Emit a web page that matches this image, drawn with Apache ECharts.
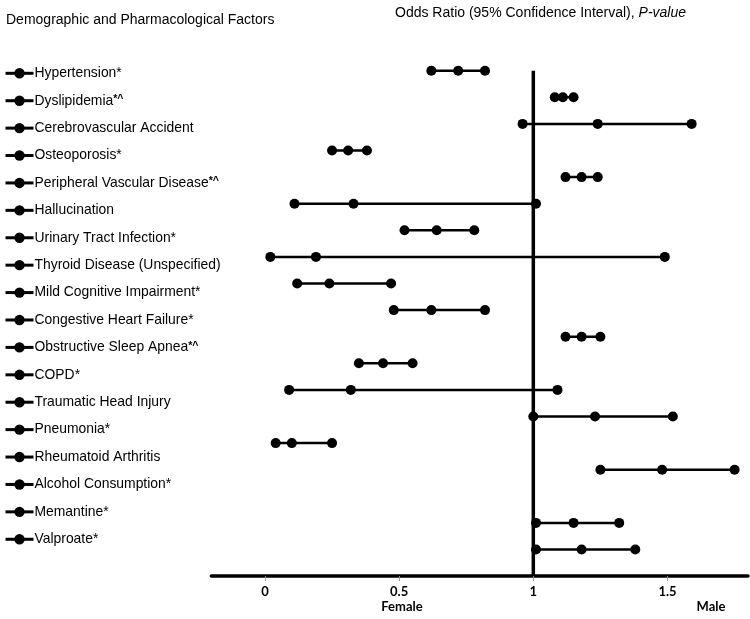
<!DOCTYPE html>
<html>
<head>
<meta charset="utf-8">
<script src="https://cdn.jsdelivr.net/npm/echarts@6/dist/echarts.min.js"></script>
<style>
html,body{margin:0;padding:0;background:#fff;}
#chart{width:750px;height:619px;}
</style>
</head>
<body>
<div id="chart"></div>
<script>
// Factors (legend / rows, top to bottom)
const factors = [
  'Hypertension*', 'Dyslipidemia*^', 'Cerebrovascular Accident', 'Osteoporosis*',
  'Peripheral Vascular Disease*^', 'Hallucination', 'Urinary Tract Infection*',
  'Thyroid Disease (Unspecified)', 'Mild Cognitive Impairment*', 'Congestive Heart Failure*',
  'Obstructive Sleep Apnea*^', 'COPD*', 'Traumatic Head Injury', 'Pneumonia*',
  'Rheumatoid Arthritis', 'Alcohol Consumption*', 'Memantine*', 'Valproate*'
];
// Lower 95% CI, odds ratio, upper 95% CI
const ciLow = [0.62, 1.08, 0.96, 0.25, 1.12, 0.11, 0.52, 0.02, 0.12, 0.48, 1.12, 0.35, 0.09, 1.00, 0.04, 1.25, 1.01, 1.01];
const oddsRatio = [0.72, 1.11, 1.24, 0.31, 1.18, 0.33, 0.64, 0.19, 0.24, 0.62, 1.18, 0.44, 0.32, 1.23, 0.10, 1.48, 1.15, 1.18];
const ciHigh = [0.82, 1.15, 1.59, 0.38, 1.24, 1.01, 0.78, 1.49, 0.47, 0.82, 1.25, 0.55, 1.09, 1.52, 0.25, 1.75, 1.32, 1.38];
// Axis tick labels
const xTicks = [0, 0.5, 1, 1.5];
const refValue = 1;

// Plot rows: blank spacer at top, blank between conditions and drugs, blank at axis
const plotRows = [''].concat(factors.slice(0, 16), [' '], factors.slice(16), ['  ']);

const FONT = 'Liberation Sans, Arial, sans-serif';
const series = factors.map(function (name, i) {
  return {
    name: name,
    type: 'line',
    data: [[ciLow[i], name], [oddsRatio[i], name], [ciHigh[i], name]],
    symbol: 'circle',
    symbolSize: 10,
    showSymbol: true,
    color: '#000',
    itemStyle: { color: '#000' },
    lineStyle: { color: '#000', width: 2.5 },
    silent: true,
    animation: false,
    z: 3
  };
});
series.push({
  name: 'ref',
  type: 'line',
  data: [[refValue, factors[0]], [refValue, plotRows[plotRows.length - 1]]],
  symbol: 'none',
  lineStyle: { color: '#000', width: 3.5 },
  silent: true,
  animation: false,
  z: 2
});

const chart = echarts.init(document.getElementById('chart'), null, { renderer: 'canvas' });
chart.setOption({
  backgroundColor: '#fff',
  animation: false,
  title: [
    {
      text: 'Demographic and Pharmacological Factors',
      left: 6, top: 13, padding: 0,
      textStyle: { fontFamily: FONT, fontSize: 14, fontWeight: 'normal', color: '#000' }
    },
    {
      text: '{a|Odds Ratio (95% Confidence Interval), }{b|P-value}',
      left: 395, top: 6, padding: 0,
      textStyle: {
        fontWeight: 'normal',
        rich: {
          a: { fontFamily: FONT, fontSize: 14, fontWeight: 'normal', color: '#000' },
          b: { fontFamily: FONT, fontSize: 14, fontWeight: 'normal', color: '#000', fontStyle: 'italic' }
        }
      }
    }
  ],
  legend: {
    data: factors,
    orient: 'vertical',
    left: 4,
    top: 65.3,
    padding: 0,
    itemWidth: 28,
    itemHeight: 13,
    itemGap: 11.41,
    selectedMode: false,
    lineStyle: { width: 3, color: '#000' },
    itemStyle: { color: '#000' },
    formatter: function (name) {
      return name.indexOf('*^') >= 0
        ? '{t|' + name.replace('*^', '') + '}{s|*^}'
        : '{t|' + name + '}';
    },
    textStyle: {
      fontFamily: FONT, fontSize: 13.9, color: '#000', lineHeight: 16, padding: [0, 0, 0, -4],
      rich: {
        t: { fontFamily: FONT, fontSize: 13.9, color: '#000', lineHeight: 16 },
        s: { fontFamily: FONT, fontSize: 10.5, fontWeight: 'bold', color: '#000', lineHeight: 16, verticalAlign: 'middle', padding: [0, 0, 3, 0] }
      }
    }
  },
  grid: { left: 211.3, right: 2, top: 44.1, bottom: 42.9 },
  xAxis: {
    type: 'value',
    min: -0.2,
    max: 1.8,
    splitLine: { show: false },
    axisLine: { show: true, lineStyle: { color: '#000', width: 3.5 } },
    axisTick: { show: true, customValues: xTicks, length: 5, lineStyle: { color: '#999', width: 1 } },
    axisLabel: {
      customValues: xTicks,
      margin: 9,
      fontFamily: 'Lato, sans-serif',
      fontWeight: 'bold',
      fontSize: 13,
      color: '#000'
    }
  },
  yAxis: {
    type: 'category',
    data: plotRows,
    inverse: true,
    boundaryGap: false,
    show: false
  },
  graphic: [
    { type: 'text', x: 402, y: 607, style: { text: 'Female', font: 'bold 13px Lato, sans-serif', fill: '#000', align: 'center', verticalAlign: 'middle' } },
    { type: 'text', x: 711, y: 607, style: { text: 'Male', font: 'bold 13px Lato, sans-serif', fill: '#000', align: 'center', verticalAlign: 'middle' } }
  ],
  series: series
});
</script>
</body>
</html>
